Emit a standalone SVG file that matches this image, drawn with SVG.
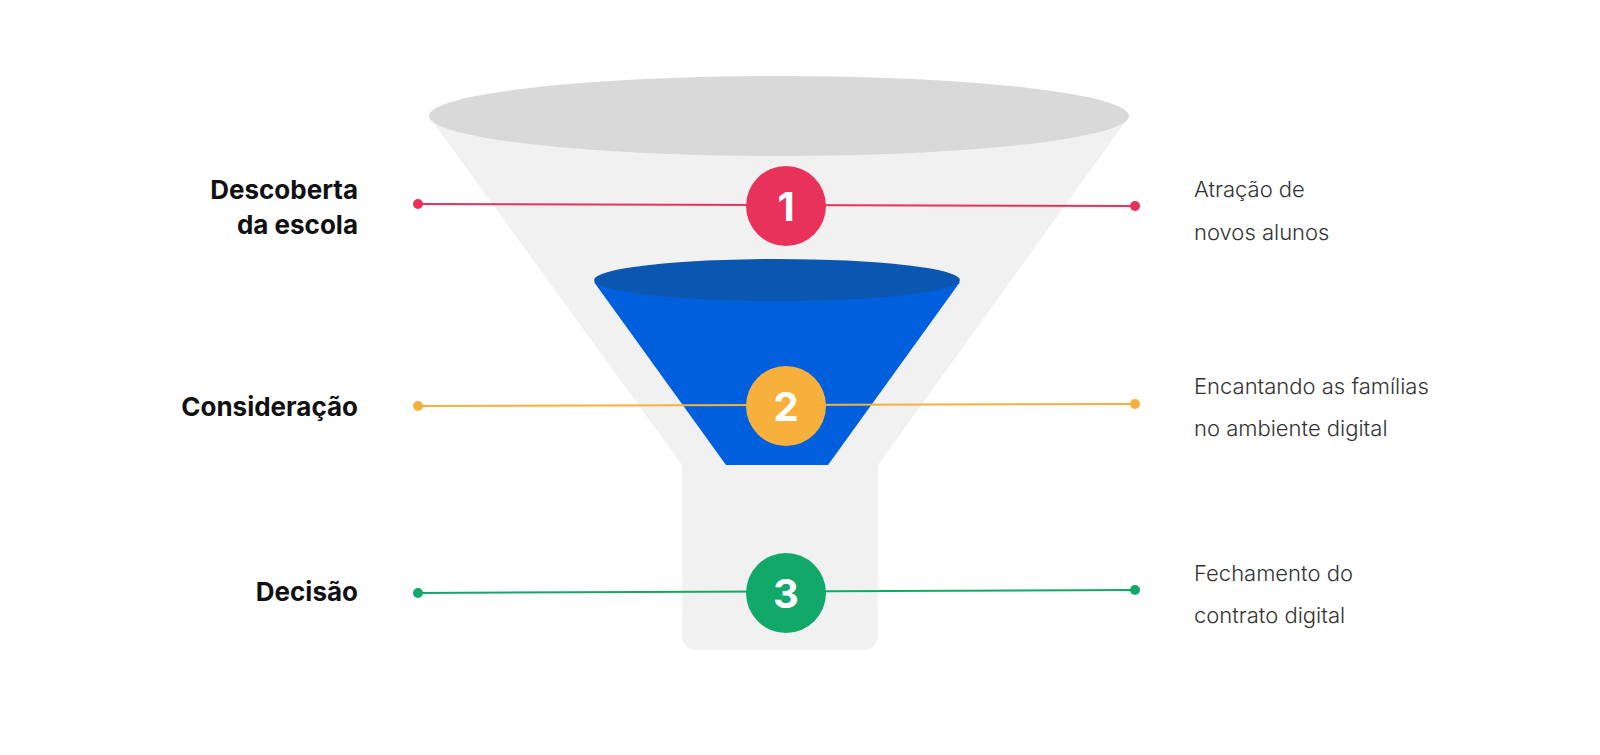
<svg xmlns="http://www.w3.org/2000/svg" width="1600" height="755" viewBox="0 0 1600 755">
<style>
.l{font-family:Inter,"Open Sans",sans-serif;font-weight:700;font-size:26px;fill:#111;text-anchor:end}
.r{font-family:Inter,"Open Sans",sans-serif;font-weight:300;font-size:22px;fill:#333}
.n{font-family:Inter,"Open Sans",sans-serif;font-weight:700;font-size:40px;fill:#fff;text-anchor:middle}
</style>
<rect width="1600" height="755" fill="#fff"/>
<g id="funnel">
<path d="M430,118 L1128,118 L878,465 L878,634 Q878,650 862,650 L698,650 Q682,650 682,634 L682,465 Z" fill="#f1f1f1"/>
<ellipse cx="779" cy="116" rx="350" ry="40" fill="#d9d9d9"/>
</g>
<g id="inner">
<path d="M594,282 L960,282 L828,465 L726,465 Z" fill="#005fdc"/>
<ellipse cx="777" cy="280" rx="183" ry="21" fill="#0a56b0"/>
</g>
<g id="connectors">
<line x1="418" y1="204" x2="1135" y2="206" stroke="#e8325c" stroke-width="2"/>
<circle cx="418" cy="204" r="5" fill="#e8325c"/><circle cx="1135" cy="206" r="5" fill="#e8325c"/>
<line x1="418" y1="406" x2="1135" y2="404" stroke="#f7b03b" stroke-width="2"/>
<circle cx="418" cy="406" r="5" fill="#f7b03b"/><circle cx="1135" cy="404" r="5" fill="#f7b03b"/>
<line x1="418" y1="593" x2="1135" y2="590" stroke="#12a86a" stroke-width="2"/>
<circle cx="418" cy="593" r="5" fill="#12a86a"/><circle cx="1135" cy="590" r="5" fill="#12a86a"/>
</g>
<g id="n1"><circle cx="786" cy="206" r="40" fill="#e8325c"/><text class="n" x="786" y="221">1</text></g>
<g id="n2"><circle cx="786" cy="406" r="40" fill="#f7b03b"/><text class="n" x="786" y="421">2</text></g>
<g id="n3"><circle cx="786" cy="593" r="40" fill="#12a86a"/><text class="n" x="786" y="608">3</text></g>
<g id="left">
<text class="l" x="358" y="199">Descoberta</text>
<text class="l" x="358" y="234">da escola</text>
<text class="l" x="358" y="416">Consideração</text>
<text class="l" x="358" y="601">Decisão</text>
</g>
<g id="right">
<text class="r" x="1194" y="197">Atração de</text>
<text class="r" x="1194" y="240">novos alunos</text>
<text class="r" x="1194" y="394">Encantando as famílias</text>
<text class="r" x="1194" y="436">no ambiente digital</text>
<text class="r" x="1194" y="581">Fechamento do</text>
<text class="r" x="1194" y="623">contrato digital</text>
</g>
</svg>
